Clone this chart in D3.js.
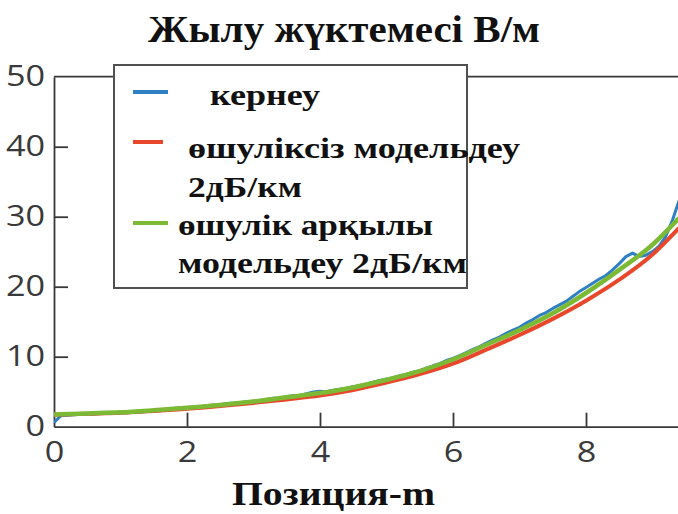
<!DOCTYPE html>
<html>
<head>
<meta charset="utf-8">
<script src="https://cdn.jsdelivr.net/npm/d3@7"></script>
<style>
  html, body { margin: 0; padding: 0; background: #fff; }
  svg { display: block; }
</style>
</head>
<body>
<svg id="chart" width="678" height="514"></svg>
<script>
// Model curves: positions (m) and heat load (В/м)
const modelX = [0, 0.5, 1, 1.5, 2, 2.5, 3, 3.5, 4, 4.5, 5, 5.5, 6, 6.5, 7, 7.5, 8, 8.5, 9, 9.4];
const lossless = [1.7, 1.85, 2.0, 2.25, 2.55, 2.95, 3.4, 3.9, 4.45, 5.25, 6.3, 7.5, 9.0, 11.0, 13.1, 15.4, 18.0, 21.0, 24.6, 28.4];
const withLoss = [1.75, 1.9, 2.05, 2.35, 2.7, 3.1, 3.6, 4.2, 4.8, 5.6, 6.7, 7.95, 9.6, 11.7, 13.8, 16.2, 19.1, 22.4, 26.0, 29.8];

// Measured voltage trace, sampled every 0.1 m
const measuredX = d3.range(0, 95).map(i => +(i * 0.1).toFixed(1));
const measured = [
  0.6, 1.55, 1.65, 1.7, 1.78, 1.82, 1.8, 1.9, 1.88, 1.95,
  2.0, 1.98, 2.05, 2.1, 2.2, 2.3, 2.28, 2.45, 2.6, 2.7,
  2.75, 2.8, 2.85, 2.98, 3.1, 3.15, 3.3, 3.35, 3.42, 3.58,
  3.65, 3.7, 3.9, 4.05, 4.1, 4.3, 4.42, 4.5, 4.7, 4.95,
  5.05, 5.0, 5.2, 5.35, 5.5, 5.72, 5.9, 6.1, 6.35, 6.6,
  6.8, 7.0, 7.3, 7.5, 7.8, 8.0, 8.35, 8.7, 9.0, 9.45,
  9.75, 10.15, 10.6, 11.05, 11.45, 11.95, 12.4, 12.8, 13.35, 13.8,
  14.2, 14.8, 15.3, 15.9, 16.3, 16.9, 17.4, 17.9, 18.6, 19.3,
  19.9, 20.5, 21.1, 21.6, 22.4, 23.3, 24.3, 24.8, 24.3, 24.5,
  25.0, 25.8, 27.2, 29.5, 32.3
];

const xTicks = [0, 2, 4, 6, 8];
const yTicks = [0, 10, 20, 30, 40, 50];

const titleText = "Жылу жүктемесі В/м";
const xTitle = "Позиция-m";
const legendLabels = [
  ["кернеу"],
  ["өшуліксіз модельдеу", "2дБ/км"],
  ["өшулік арқылы", "модельдеу 2дБ/км"]
];

const colors = { measured: "#2f80c3", lossless: "#e8472b", withLoss: "#7cb935" };

const svg = d3.select("#chart");
const plotLeft = 54, plotTop = 76.7, plotBottom = 426.7;
const x = d3.scaleLinear().domain([0, 10]).range([plotLeft, plotLeft + 665]);
const y = d3.scaleLinear().domain([0, 50]).range([plotBottom, plotTop]);

const tickFont = "'Open Sans', 'Noto Sans', sans-serif";
const serif = "'Liberation Serif', 'Times New Roman', serif";
const axisColor = "#383838";

// Title
svg.append("text")
  .attr("x", 148).attr("y", 42)
  .attr("textLength", 392).attr("lengthAdjust", "spacingAndGlyphs")
  .style("font-family", serif).style("font-weight", "bold").style("font-size", "37px")
  .attr("fill", "#111")
  .text(titleText);

// Top frame line
svg.append("line")
  .attr("x1", plotLeft).attr("x2", x(10)).attr("y1", plotTop).attr("y2", plotTop)
  .attr("stroke", axisColor).attr("stroke-width", 1.8);

// Axes
const xAxis = d3.axisBottom(x).tickValues(xTicks).tickSizeInner(-14).tickSizeOuter(0).tickPadding(15)
  .tickFormat(d3.format("d"));
const gx = svg.append("g").attr("transform", `translate(0,${plotBottom})`).call(xAxis);

const yAxis = d3.axisLeft(y).tickValues(yTicks).tickSizeInner(-14).tickSizeOuter(0).tickPadding(7.6)
  .tickFormat(d3.format("d"));
const gy = svg.append("g").attr("transform", `translate(${plotLeft},0)`).call(yAxis);

[gx, gy].forEach(g => {
  g.select(".domain").attr("stroke", axisColor).attr("stroke-width", 1.8);
  g.selectAll(".tick line").attr("stroke", axisColor).attr("stroke-width", 1.8);
  g.selectAll(".tick text")
    .attr("fill", "#3a3a3a")
    .style("font-family", tickFont).style("font-size", "29px")
    .attr("transform", "scale(1.18,1)");
});
gy.selectAll(".tick line").filter(d => d === 0 || d === 50).remove();
gx.selectAll(".tick line").filter(d => d === 0).remove();

// Curves
svg.append("clipPath").attr("id", "plotClip")
  .append("rect").attr("x", plotLeft).attr("y", 0).attr("width", 700).attr("height", plotBottom);

const line = d3.line().x(d => x(d[0])).y(d => y(d[1]));
const smooth = d3.line().x(d => x(d[0])).y(d => y(d[1])).curve(d3.curveMonotoneX);
const curves = svg.append("g").attr("clip-path", "url(#plotClip)");

curves.append("path")
  .datum(measuredX.map((v, i) => [v, measured[i]]))
  .attr("d", line).attr("fill", "none")
  .attr("stroke", colors.measured).attr("stroke-width", 3).attr("stroke-linejoin", "round");

curves.append("path")
  .datum(modelX.map((v, i) => [v, lossless[i]]))
  .attr("d", smooth).attr("fill", "none")
  .attr("stroke", colors.lossless).attr("stroke-width", 4);

curves.append("path")
  .datum(modelX.map((v, i) => [v, withLoss[i]]))
  .attr("d", smooth).attr("fill", "none")
  .attr("stroke", colors.withLoss).attr("stroke-width", 4.5);

// Legend
const legend = svg.append("g");
legend.append("rect")
  .attr("x", 114).attr("y", 65).attr("width", 353).attr("height", 223)
  .attr("fill", "#fff").attr("stroke", "#505050").attr("stroke-width", 2);

const sampleSpecs = [
  { c: colors.measured, x1: 133, x2: 168, y: 92 },
  { c: colors.lossless, x1: 133, x2: 163, y: 142 },
  { c: colors.withLoss, x1: 133, x2: 168, y: 223 }
];
sampleSpecs.forEach(s => {
  legend.append("line").attr("x1", s.x1).attr("x2", s.x2).attr("y1", s.y).attr("y2", s.y)
    .attr("stroke", s.c).attr("stroke-width", 4);
});

const legendLines = [
  { t: legendLabels[0][0], x: 210, y: 105, w: 110 },
  { t: legendLabels[1][0], x: 188, y: 158, w: 332 },
  { t: legendLabels[1][1], x: 188, y: 197, w: 114 },
  { t: legendLabels[2][0], x: 178, y: 235, w: 255 },
  { t: legendLabels[2][1], x: 178, y: 273, w: 289 }
];
legendLines.forEach(l => {
  legend.append("text")
    .attr("x", l.x).attr("y", l.y)
    .attr("textLength", l.w).attr("lengthAdjust", "spacingAndGlyphs")
    .style("font-family", serif).style("font-weight", "bold").style("font-size", "29px")
    .attr("fill", "#111")
    .text(l.t);
});

// X axis title
svg.append("text")
  .attr("x", 232).attr("y", 505)
  .attr("textLength", 203).attr("lengthAdjust", "spacingAndGlyphs")
  .style("font-family", serif).style("font-weight", "bold").style("font-size", "34px")
  .attr("fill", "#111")
  .text(xTitle);
</script>
</body>
</html>
